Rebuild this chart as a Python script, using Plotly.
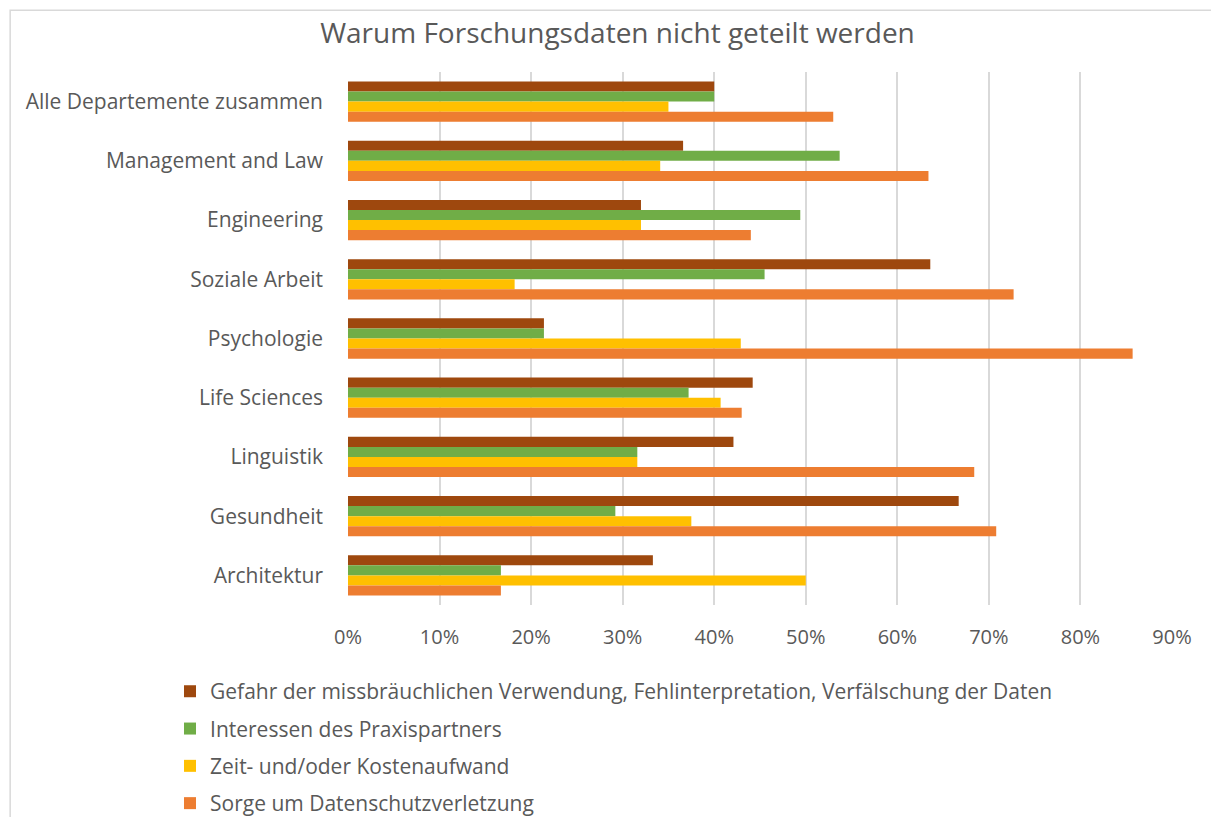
import plotly.graph_objects as go

# Departments, top to bottom as in the chart
departments = [
    "Alle Departemente zusammen",
    "Management and Law",
    "Engineering",
    "Soziale Arbeit",
    "Psychologie",
    "Life Sciences",
    "Linguistik",
    "Gesundheit",
    "Architektur",
]

series_names = [
    "Gefahr der missbräuchlichen Verwendung, Fehlinterpretation, Verfälschung der Daten",
    "Interessen des Praxispartners",
    "Zeit- und/oder Kostenaufwand",
    "Sorge um Datenschutzverletzung",
]

# shares (0..1)
gefahr = [0.400, 0.366, 0.320, 0.636, 0.214, 0.442, 0.421, 0.667, 0.333]
interessen = [0.400, 0.537, 0.494, 0.455, 0.214, 0.372, 0.316, 0.292, 0.167]
aufwand = [0.350, 0.341, 0.320, 0.182, 0.429, 0.407, 0.316, 0.375, 0.500]
datenschutz = [0.530, 0.634, 0.440, 0.727, 0.857, 0.430, 0.684, 0.708, 0.167]

colors = ["#9E480E", "#70AD47", "#FFC000", "#ED7D31"]
tick_vals = [0, 0.1, 0.2, 0.3, 0.4, 0.5, 0.6, 0.7, 0.8, 0.9]
tick_text = ["0%", "10%", "20%", "30%", "40%", "50%", "60%", "70%", "80%", "90%"]

fig = go.Figure()
for i, (name, vals) in enumerate(zip(series_names, [gefahr, interessen, aufwand, datenschutz])):
    fig.add_trace(go.Bar(
        y=departments, x=vals, name=name, orientation="h",
        marker=dict(color=colors[i], line=dict(width=0)),
        legendgroup=f"g{i}",
    ))

text_color = "#595959"
fig.update_layout(
    width=1219, height=817,
    paper_bgcolor="white", plot_bgcolor="white",
    font=dict(family="Open Sans", color=text_color),
    title=dict(text="Warum Forschungsdaten nicht geteilt werden",
               x=0.5, xanchor="center", y=1 - 25 / 817, yanchor="middle",
               font=dict(size=28, color=text_color)),
    barmode="group", bargap=0.32, bargroupgap=0,
    margin=dict(l=340, r=55, t=64, b=220, autoexpand=False),
    showlegend=True,
    legend=dict(orientation="v", x=-0.216, xanchor="left", y=-0.124, yanchor="top",
                font=dict(size=21, color=text_color), tracegroupgap=7,
                itemwidth=30, traceorder="grouped"),
)
fig.update_xaxes(range=[0, 0.9], tickvals=tick_vals, ticktext=tick_text,
                 showgrid=True, gridcolor="#D9D9D9", gridwidth=2,
                 zeroline=False, showline=False, ticks="",
                 ticklabelstandoff=18, tickfont=dict(size=20, color=text_color))
fig.update_yaxes(autorange="reversed", showgrid=False, showline=False, ticks="",
                 ticklabelstandoff=24, tickfont=dict(size=21, color=text_color))

# light frame around the chart area
fig.add_shape(type="rect", xref="paper", yref="paper",
              x0=-0.41, x1=1.2, y0=-0.5, y1=1.116,
              line=dict(color="#D9D9D9", width=1.5), layer="below")

fig.write_html("out.html")
